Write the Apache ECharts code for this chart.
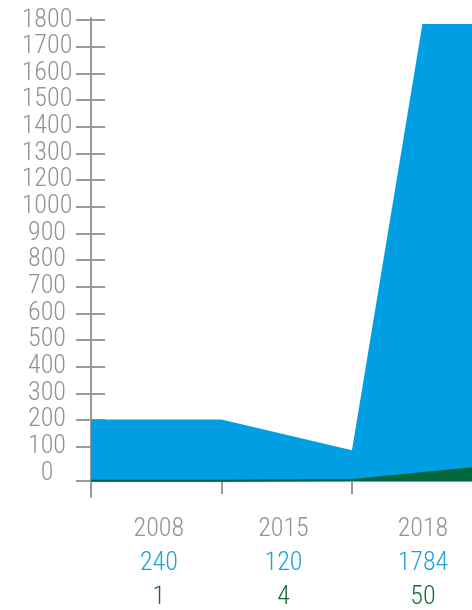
<!DOCTYPE html>
<html><head><meta charset="utf-8">
<script src="https://cdn.jsdelivr.net/npm/echarts@6/dist/echarts.min.js"></script>
<style>html,body{margin:0;padding:0;background:#fff}#c{width:472px;height:610px}</style>
</head><body><div id="c"></div>
<script>
const years = ['2008', '2015', '2018'];
const blueValues = [240, 120, 1784];
const greenValues = [1, 4, 50];
const yTickLabels = ['0','100','200','300','400','500','600','700','800','900','1000','1200','1300','1400','1500','1600','1700','1800'];

const FONT = "'Roboto Condensed', Roboto, 'Liberation Sans', sans-serif";
const FW = 300;
const FS = 26;
const GRAY = '#999999';
const TEXT_GRAY = '#929292';
const BLUE = '#009fe3';
const GREEN = '#00683a';
const XMAX = 2.92, PEAK_X = 2.54;
const labelX = [0.52, 1.475, 2.544];

const blueData = [[0, blueValues[0]], [1, blueValues[0]], [2, blueValues[1]], [PEAK_X, blueValues[2]], [XMAX, blueValues[2]]];
const greenData = [[0, greenValues[0]], [1, greenValues[0]], [2, greenValues[1]], [XMAX, greenValues[2]]];

const slotTicks = [];
for (let i = 1; i < yTickLabels.length; i++) slotTicks.push(i);

const chart = echarts.init(document.getElementById('c'));
chart.setOption({
  animation: false,
  grid: [
    { left: 91, right: 0, top: 20, bottom: 129, outerBoundsMode: 'none', containLabel: false },
    { left: 91, right: 0, top: 20, bottom: 610 - 473.3, outerBoundsMode: 'none', containLabel: false },
    { left: 91, right: 0, top: 18, bottom: 113, outerBoundsMode: 'none', containLabel: false }
  ],
  xAxis: [
    { type: 'value', gridIndex: 0, min: 0, max: XMAX,
      splitLine: { show: false },
      axisLine: { show: true, lineStyle: { color: GRAY, width: 2 } },
      axisTick: { show: false },
      axisLabel: {
        customValues: labelX, margin: 31.5, showMinLabel: true, showMaxLabel: true,
        formatter: v => {
          const i = labelX.findIndex(x => Math.abs(x - v) < 0.01);
          if (i < 0) return '';
          return '{y|' + years[i] + '}\n{b|' + blueValues[i] + '}\n{g|' + greenValues[i] + '}';
        },
        rich: {
          y: { fontFamily: FONT, fontWeight: FW, fontSize: FS, color: TEXT_GRAY, lineHeight: 34 },
          b: { fontFamily: FONT, fontWeight: FW, fontSize: FS, color: '#1aa2de', lineHeight: 34 },
          g: { fontFamily: FONT, fontWeight: FW, fontSize: FS, color: '#166b3a', lineHeight: 34 }
        }
      }
    },
    { type: 'value', gridIndex: 0, min: 0, max: XMAX, position: 'bottom', offset: -16,
      splitLine: { show: false }, axisLine: { show: false }, axisLabel: { show: false },
      axisTick: { show: true, customValues: [1, 2], length: 29, lineStyle: { color: GRAY, width: 2 } }
    },
    { type: 'value', gridIndex: 1, min: 0, max: 1, show: false },
    { type: 'value', gridIndex: 2, min: 0, max: 1, show: false }
  ],
  yAxis: [
    { type: 'value', gridIndex: 0, min: 0, max: 1800,
      splitLine: { show: false }, axisLine: { show: false }, axisLabel: { show: false },
      axisTick: { show: true, customValues: [0], length: 15, lineStyle: { color: GRAY, width: 2 } }
    },
    { type: 'value', gridIndex: 1, min: 0, max: yTickLabels.length - 1, interval: 1, position: 'left', offset: -14,
      splitLine: { show: false }, axisLine: { show: false },
      axisTick: { show: true, customValues: slotTicks, length: 29, lineStyle: { color: GRAY, width: 2 } },
      axisLabel: { margin: 58, align: 'center', lineHeight: 20, fontFamily: FONT, fontWeight: FW, fontSize: FS, color: TEXT_GRAY,
        showMinLabel: true, showMaxLabel: true, hideOverlap: false,
        formatter: v => yTickLabels[Math.round(v)] }
    },
    { type: 'value', gridIndex: 2, min: 0, max: 1,
      splitLine: { show: false }, axisTick: { show: false }, axisLabel: { show: false },
      axisLine: { show: true, lineStyle: { color: GRAY, width: 2 } }
    }
  ],
  series: [
    { type: 'line', xAxisIndex: 0, yAxisIndex: 0, data: blueData, symbol: 'none',
      lineStyle: { width: 0 }, areaStyle: { color: BLUE, opacity: 1 } },
    { type: 'line', xAxisIndex: 0, yAxisIndex: 0, data: greenData, symbol: 'none',
      lineStyle: { width: 2, color: GREEN }, areaStyle: { color: GREEN, opacity: 1 } }
  ]
});
</script></body></html>
